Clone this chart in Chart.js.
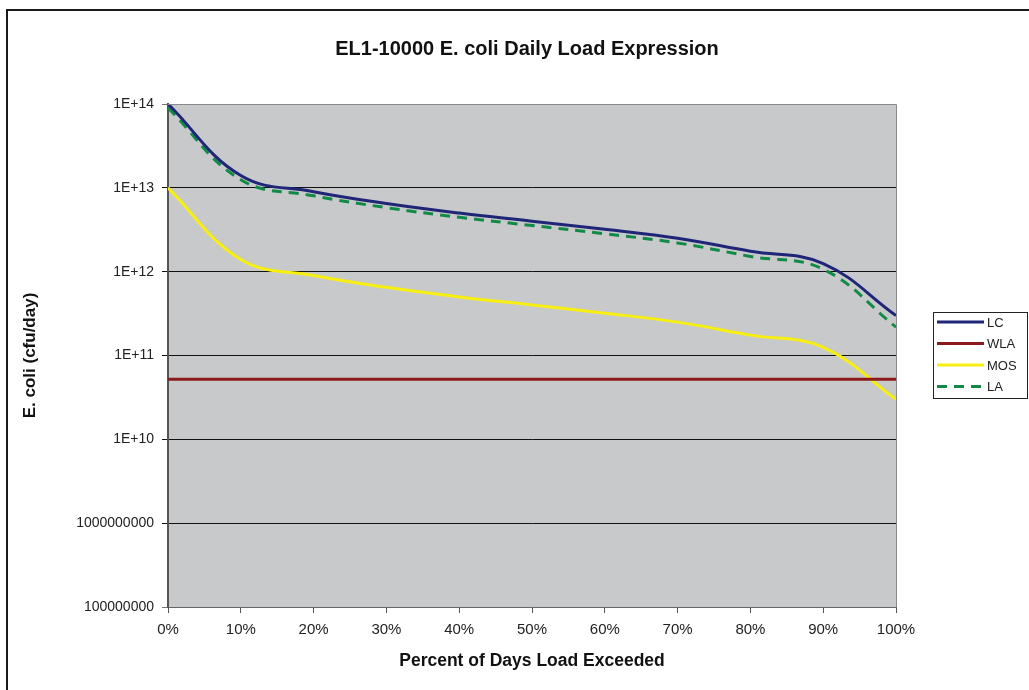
<!DOCTYPE html>
<html>
<head>
<meta charset="utf-8">
<script src="https://cdn.jsdelivr.net/npm/chart.js@4"></script>
<style>
  body { margin: 0; background: #fff; }
  #wrap { position: relative; width: 1029px; height: 690px; }
</style>
</head>
<body>
<div id="wrap"><canvas id="myChart"></canvas></div>
<script>
// Percent of days load exceeded
var percents = [0, 10, 20, 30, 40, 50, 60, 70, 80, 90, 100];

// Loads in cfu/day
var lcValues  = [1e14, 1.4e13, 9e12, 6.5e12, 5e12, 4e12, 3.2e12, 2.5e12, 1.75e12, 1.25e12, 3e11];
var wlaValues = [5.2e10, 5.2e10, 5.2e10, 5.2e10, 5.2e10, 5.2e10, 5.2e10, 5.2e10, 5.2e10, 5.2e10, 5.2e10];
var mosValues = [1e13, 1.4e12, 9e11, 6.5e11, 5e11, 4e11, 3.2e11, 2.5e11, 1.75e11, 1.25e11, 3e10];
var laValues  = [9e13, 1.25e13, 8.05e12, 5.8e12, 4.45e12, 3.55e12, 2.83e12, 2.2e12, 1.52e12, 1.07e12, 2.18e11];

// Y axis tick values (powers of ten)
var yTicks = [1e8, 1e9, 1e10, 1e11, 1e12, 1e13, 1e14];

var chartTitle = 'EL1-10000 E. coli Daily Load Expression';

var FONT = "'Liberation Sans', Arial, sans-serif";

function points(values) {
    return percents.map(function (p, i) { return { x: p, y: values[i] }; });
}

// gray plot area, outer frame, title and the boxed legend
var excelLook = {
    id: 'excelLook',
    beforeDraw: function (chart) {
        var c = chart.ctx, a = chart.chartArea;
        c.save();
        c.fillStyle = '#c8c9cb';
        c.fillRect(a.left, a.top, a.right - a.left, a.bottom - a.top);
        c.restore();
    },
    afterDraw: function (chart) {
        var c = chart.ctx, a = chart.chartArea;
        c.save();
        // plot border
        c.strokeStyle = '#8a8a8a';
        c.lineWidth = 1;
        c.beginPath();
        c.moveTo(a.left, a.top + 0.5);
        c.lineTo(a.right + 0.5, a.top + 0.5);
        c.lineTo(a.right + 0.5, a.bottom);
        c.stroke();
        // outer frame
        c.strokeStyle = '#1a1a1a';
        c.lineWidth = 2;
        c.beginPath();
        c.moveTo(7, 690);
        c.lineTo(7, 10);
        c.lineTo(1029, 10);
        c.stroke();
        // title
        c.fillStyle = '#111';
        c.font = 'bold 20px ' + FONT;
        c.textAlign = 'center';
        c.textBaseline = 'middle';
        c.fillText(chartTitle, 527, 49);
        // legend
        var lx = 933, ly = 312, lw = 94, lh = 86;
        c.fillStyle = '#fff';
        c.fillRect(lx, ly, lw, lh);
        c.strokeStyle = '#222';
        c.lineWidth = 1;
        c.strokeRect(lx + 0.5, ly + 0.5, lw, lh);
        c.font = '13px ' + FONT;
        c.textAlign = 'left';
        chart.data.datasets.forEach(function (ds, i) {
            var y = 322 + i * 21.5;
            c.strokeStyle = ds.borderColor;
            c.lineWidth = 3;
            c.setLineDash(ds.borderDash || []);
            c.beginPath();
            c.moveTo(937, y);
            c.lineTo(984, y);
            c.stroke();
            c.setLineDash([]);
            c.fillStyle = '#222';
            c.fillText(ds.label, 987, y + 1);
        });
        c.restore();
    }
};

var ctx = document.getElementById('myChart').getContext('2d');

var myChart = new Chart(ctx, {
    type: 'line',
    data: {
        datasets: [{
            label: 'LC',
            data: points(lcValues),
            borderColor: '#1f2677',
            borderWidth: 3
        }, {
            label: 'WLA',
            data: points(wlaValues),
            borderColor: '#8b1a1a',
            borderWidth: 3
        }, {
            label: 'MOS',
            data: points(mosValues),
            borderColor: '#f7ee12',
            borderWidth: 3
        }, {
            label: 'LA',
            data: points(laValues),
            borderColor: '#108a45',
            borderWidth: 3,
            borderDash: [10, 7]
        }]
    },
    options: {
        responsive: true,
        maintainAspectRatio: false,
        animation: false,
        layout: { padding: { left: 0, right: 133, top: 104, bottom: 0 } },
        elements: {
            point: { radius: 0 },
            line: { tension: 0.4, fill: false }
        },
        plugins: {
            legend: { display: false },
            tooltip: { enabled: false },
            title: { display: false }
        },
        scales: {
            x: {
                type: 'linear',
                min: 0,
                max: 100,
                afterFit: function (scale) { scale.height = 83; },
                ticks: {
                    stepSize: 10,
                    color: '#222',
                    padding: 8,
                    maxRotation: 0,
                    font: { family: FONT, size: 15 },
                    callback: function (v) { return v + '%'; }
                },
                grid: {
                    drawOnChartArea: false,
                    drawTicks: true,
                    tickLength: 6,
                    color: '#555'
                },
                border: { color: '#666', width: 1 },
                title: {
                    display: true,
                    text: 'Percent of Days Load Exceeded',
                    color: '#111',
                    font: { family: FONT, size: 17.5, weight: 'bold' },
                    padding: { top: 0, bottom: 18 }
                }
            },
            y: {
                type: 'logarithmic',
                min: 1e8,
                max: 1e14,
                afterFit: function (scale) { scale.width = 168; },
                afterBuildTicks: function (scale) {
                    scale.ticks = yTicks.map(function (v) { return { value: v }; });
                },
                ticks: {
                    color: '#222',
                    padding: 8,
                    font: { family: FONT, size: 14 },
                    callback: function (v) {
                        var e = Math.round(Math.log10(v));
                        return e >= 10 ? '1E+' + e : String(Math.round(v));
                    }
                },
                grid: {
                    drawTicks: true,
                    tickLength: 6,
                    color: function (c) {
                        return (c.tick && (c.tick.value === 1e14 || c.tick.value === 1e8)) ? '#777' : '#111';
                    }
                },
                border: { color: '#555', width: 2 },
                title: {
                    display: true,
                    text: 'E. coli (cfu/day)',
                    color: '#111',
                    font: { family: FONT, size: 17, weight: 'bold' },
                    padding: { top: 20, bottom: 0 }
                }
            }
        }
    },
    plugins: [excelLook]
});
</script>
</body>
</html>
